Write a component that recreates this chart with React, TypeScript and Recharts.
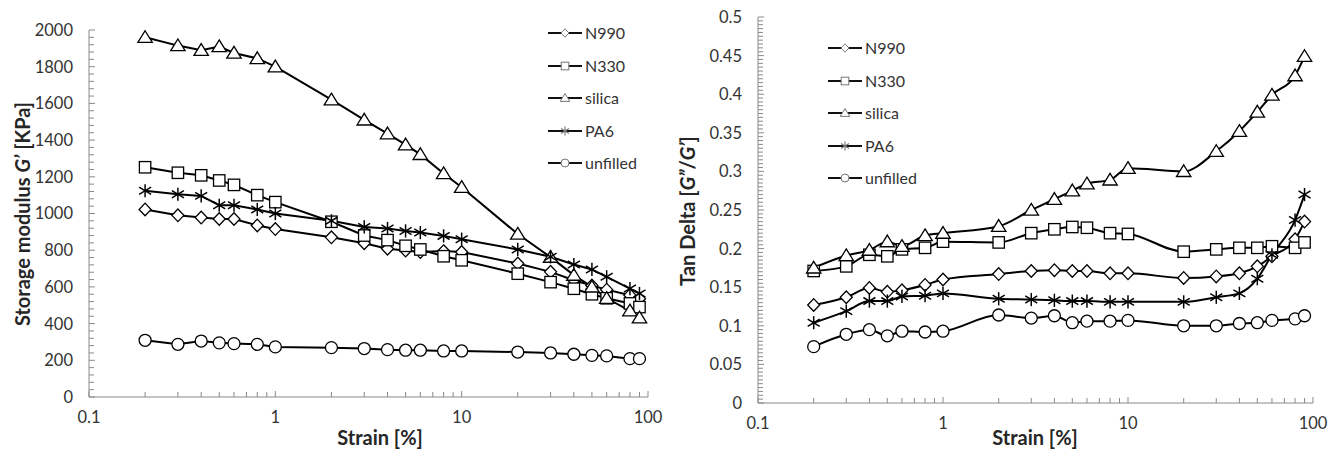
import { LineChart, Line, XAxis, YAxis, Legend, Label } from 'recharts';

/* -------------------------------------------------------------------------- */
/*  Data                                                                      */
/* -------------------------------------------------------------------------- */

const strain = [0.2, 0.3, 0.4, 0.5, 0.6, 0.8, 1, 2, 3, 4, 5, 6, 8, 10, 20, 30, 40, 50, 60, 80, 90];

// storage modulus G' [KPa]
const gN990 = [1022, 990, 978, 970, 970, 935, 915, 870, 838, 808, 798, 790, 795, 790, 727, 682, 636, 608, 585, 555, 536];
const gN330 = [1252, 1222, 1208, 1180, 1156, 1100, 1062, 955, 880, 855, 824, 804, 767, 745, 672, 626, 590, 560, 538, 510, 490];
const gSilica = [1960, 1915, 1890, 1910, 1875, 1845, 1800, 1620, 1510, 1435, 1375, 1322, 1218, 1143, 888, 762, 664, 600, 538, 470, 432];
const gPA6 = [1124, 1105, 1096, 1045, 1045, 1022, 1000, 960, 927, 918, 905, 896, 878, 860, 804, 764, 722, 695, 655, 591, 564];
const gUnfilled = [309, 287, 305, 295, 291, 287, 273, 269, 264, 258, 255, 255, 251, 251, 245, 240, 233, 227, 224, 209, 209];

// tan delta G''/G'
const tN990 = [0.127, 0.137, 0.149, 0.144, 0.146, 0.153, 0.16, 0.167, 0.171, 0.172, 0.171, 0.171, 0.168, 0.168, 0.162, 0.164, 0.168, 0.177, 0.19, 0.212, 0.235];
const tN330 = [0.171, 0.177, 0.192, 0.19, 0.199, 0.201, 0.209, 0.208, 0.22, 0.225, 0.228, 0.227, 0.22, 0.219, 0.196, 0.199, 0.201, 0.201, 0.203, 0.201, 0.208];
const tSilica = [0.175, 0.191, 0.198, 0.209, 0.203, 0.217, 0.22, 0.229, 0.25, 0.264, 0.275, 0.284, 0.289, 0.304, 0.3, 0.326, 0.352, 0.377, 0.399, 0.424, 0.449];
const tPA6 = [0.104, 0.119, 0.132, 0.132, 0.138, 0.139, 0.142, 0.135, 0.134, 0.133, 0.132, 0.132, 0.131, 0.131, 0.131, 0.137, 0.142, 0.161, 0.192, 0.237, 0.27];
const tUnfilled = [0.073, 0.089, 0.095, 0.087, 0.093, 0.092, 0.093, 0.114, 0.11, 0.113, 0.104, 0.106, 0.106, 0.107, 0.1, 0.1, 0.103, 0.104, 0.107, 0.109, 0.113];

const xMajor = [0.1, 1, 10, 100];
const xTicks = [0.1, 0.2, 0.3, 0.4, 0.5, 0.6, 0.7, 0.8, 0.9, 1, 2, 3, 4, 5, 6, 7, 8, 9, 10, 20, 30, 40, 50, 60, 70, 80, 90, 100];
const gMajor = [0, 200, 400, 600, 800, 1000, 1200, 1400, 1600, 1800, 2000];
const tMajor = [0, 0.05, 0.1, 0.15, 0.2, 0.25, 0.3, 0.35, 0.4, 0.45, 0.5];

type Shape = 'diamond' | 'square' | 'triangle' | 'star' | 'circle';

const series: { key: string; name: string; shape: Shape }[] = [
  { key: 'N990', name: 'N990', shape: 'diamond' },
  { key: 'N330', name: 'N330', shape: 'square' },
  { key: 'silica', name: 'silica', shape: 'triangle' },
  { key: 'PA6', name: 'PA6', shape: 'star' },
  { key: 'unfilled', name: 'unfilled', shape: 'circle' },
];

const gData = strain.map((s, i) => ({
  strain: s,
  N990: gN990[i],
  N330: gN330[i],
  silica: gSilica[i],
  PA6: gPA6[i],
  unfilled: gUnfilled[i],
}));

const tData = strain.map((s, i) => ({
  strain: s,
  N990: tN990[i],
  N330: tN330[i],
  silica: tSilica[i],
  PA6: tPA6[i],
  unfilled: tUnfilled[i],
}));

// minor tick positions between the major ones
const subdivide = (majors: number[], n: number) => {
  const out: number[] = [];
  for (let i = 0; i < majors.length - 1; i++) {
    const step = (majors[i + 1] - majors[i]) / n;
    for (let k = 0; k < n; k++) out.push(Number((majors[i] + k * step).toFixed(4)));
  }
  out.push(majors[majors.length - 1]);
  return out;
};

const FONT = 'Lato, "Open Sans", sans-serif';
const TEXT = '#333';
const AXIS = '#8a8a8a';
const Y_AXIS_W = 60;
const X_AXIS_H = 30;

/* -------------------------------------------------------------------------- */
/*  Markers                                                                   */
/* -------------------------------------------------------------------------- */

function Marker({ shape, cx, cy, size, stroke, sw }: { shape: Shape; cx: number; cy: number; size: number; stroke: string; sw: number }) {
  const r = size / 2;
  const common = { fill: '#fff', stroke, strokeWidth: sw };
  switch (shape) {
    case 'diamond':
      return <polygon points={`${cx},${cy - r * 1.05} ${cx + r},${cy} ${cx},${cy + r * 1.05} ${cx - r},${cy}`} {...common} />;
    case 'square':
      return <rect x={cx - r * 0.95} y={cy - r * 0.95} width={r * 1.9} height={r * 1.9} {...common} />;
    case 'triangle':
      return <polygon points={`${cx},${cy - r * 1.1} ${cx + r * 1.2},${cy + r * 0.85} ${cx - r * 1.2},${cy + r * 0.85}`} {...common} />;
    case 'star':
      return (
        <g stroke={stroke} strokeWidth={sw * 1.15}>
          <line x1={cx} y1={cy - r * 1.1} x2={cx} y2={cy + r * 1.1} />
          <line x1={cx - r} y1={cy - r * 0.6} x2={cx + r} y2={cy + r * 0.6} />
          <line x1={cx - r} y1={cy + r * 0.6} x2={cx + r} y2={cy - r * 0.6} />
        </g>
      );
    default:
      return <circle cx={cx} cy={cy} r={r} {...common} />;
  }
}

/* -------------------------------------------------------------------------- */
/*  Legend                                                                    */
/* -------------------------------------------------------------------------- */

function SeriesLegend() {
  return (
    <div style={{ fontFamily: FONT, fontSize: 16, color: TEXT, lineHeight: 1 }}>
      {series.map((s) => (
        <div key={s.key} style={{ display: 'flex', alignItems: 'center', height: 32.5 }}>
          <svg width={34} height={16} style={{ marginRight: 3 }}>
            <line x1={0} y1={8} x2={34} y2={8} stroke="#111" strokeWidth={2} />
            <Marker shape={s.shape} cx={17} cy={8} size={8} stroke="#777" sw={1} />
          </svg>
          <span>{s.name}</span>
        </div>
      ))}
    </div>
  );
}

/* -------------------------------------------------------------------------- */
/*  Ticks                                                                     */
/* -------------------------------------------------------------------------- */

const makeYTick = (majors: number[], plotLeft: number) => (props: any) => {
  const { y, payload } = props;
  const v = payload.value;
  const isMajor = majors.some((m) => Math.abs(m - v) < 1e-9);
  return (
    <g>
      <line x1={plotLeft} x2={plotLeft + (isMajor ? 6 : 5)} y1={y} y2={y} stroke={AXIS} strokeWidth={1} />
      {isMajor && (
        <text x={plotLeft - 16} y={y} dy="0.36em" textAnchor="end" fontFamily={FONT} fontSize={16.5} fill={TEXT}>
          {String(v)}
        </text>
      )}
    </g>
  );
};

const makeXTick = (plotBottom: number) => (props: any) => {
  const { x, payload } = props;
  const v = payload.value;
  const isMajor = xMajor.includes(v);
  return (
    <g>
      <line x1={x} x2={x} y1={plotBottom} y2={plotBottom - (isMajor ? 6 : 5)} stroke={AXIS} strokeWidth={1} />
      {isMajor && (
        <text x={x} y={plotBottom + 26} textAnchor="middle" fontFamily={FONT} fontSize={16.5} fill={TEXT}>
          {String(v)}
        </text>
      )}
    </g>
  );
};

/* -------------------------------------------------------------------------- */
/*  Panels                                                                    */
/* -------------------------------------------------------------------------- */

const titleStyle = { fontFamily: FONT, fontSize: 20, fontWeight: 700, fill: '#262626' };

function Panel({
  data,
  width,
  plot,
  yDomain,
  yMajor,
  yMinorDiv,
  curve,
  legendPos,
  yTitle,
  yTitlePos,
  xTitleX,
}: {
  data: any[];
  width: number;
  plot: { top: number; right: number; bottom: number; left: number };
  yDomain: [number, number];
  yMajor: number[];
  yMinorDiv: number;
  curve: 'linear' | 'monotone';
  legendPos: { left: number; top: number };
  yTitle: React.ReactNode;
  yTitlePos: { x: number; y: number };
  xTitleX: number;
}) {
  const height = 451;
  const plotLeft = plot.left;
  const plotBottom = height - plot.bottom;
  const margin = {
    top: plot.top,
    right: plot.right,
    left: plot.left - Y_AXIS_W,
    bottom: plot.bottom - X_AXIS_H,
  };
  return (
    <LineChart width={width} height={height} data={data} margin={margin}>
      <XAxis
        dataKey="strain"
        type="number"
        scale="log"
        domain={[0.1, 100]}
        ticks={xTicks}
        interval={0}
        height={X_AXIS_H}
        tickLine={false}
        axisLine={{ stroke: AXIS }}
        tick={makeXTick(plotBottom)}
        allowDataOverflow
      >
        <Label
          content={() => (
            <text x={xTitleX} y={445} textAnchor="middle" {...titleStyle}>
              Strain [%]
            </text>
          )}
        />
      </XAxis>
      <YAxis
        type="number"
        domain={yDomain}
        ticks={subdivide(yMajor, yMinorDiv)}
        interval={0}
        width={Y_AXIS_W}
        tickLine={false}
        axisLine={{ stroke: AXIS }}
        tick={makeYTick(yMajor, plotLeft)}
      >
        <Label
          content={() => (
            <text
              x={yTitlePos.x}
              y={yTitlePos.y}
              textAnchor="middle"
              dominantBaseline="central"
              transform={`rotate(-90 ${yTitlePos.x} ${yTitlePos.y})`}
              {...titleStyle}
            >
              {yTitle}
            </text>
          )}
        />
      </YAxis>
      <Legend
        content={<SeriesLegend />}
        layout="vertical"
        align="center"
        verticalAlign="middle"
        wrapperStyle={{ position: 'absolute', left: legendPos.left, top: legendPos.top, width: 130, bottom: 'auto' }}
      />
      {series.map((s) => (
        <Line
          key={s.key}
          dataKey={s.key}
          name={s.name}
          type={curve}
          stroke="#000"
          strokeWidth={2}
          isAnimationActive={false}
          legendType="none"
          dot={(p: any) => (
            <Marker key={`${s.key}-${p.index}`} shape={s.shape} cx={p.cx} cy={p.cy} size={12} stroke="#000" sw={1.3} />
          )}
        />
      ))}
    </LineChart>
  );
}

export default function App() {
  return (
    <div style={{ position: 'absolute', left: 0, top: 0, width: 1329, height: 451, background: '#fff' }}>
      <div style={{ position: 'absolute', left: 0, top: 0 }}>
        <Panel
          data={gData}
          width={665}
          plot={{ top: 30, right: 17, bottom: 54, left: 89 }}
          yDomain={[0, 2000]}
          yMajor={gMajor}
          yMinorDiv={5}
          curve="linear"
          legendPos={{ left: 548, top: 17 }}
          yTitle={
            <>
              Storage modulus <tspan fontStyle="italic">G’</tspan>  [KPa]
            </>
          }
          yTitlePos={{ x: 22, y: 214 }}
          xTitleX={380}
        />
      </div>
      <div style={{ position: 'absolute', left: 665, top: 0 }}>
        <Panel
          data={tData}
          width={664}
          plot={{ top: 17, right: 16, bottom: 48, left: 93 }}
          yDomain={[0, 0.5]}
          yMajor={tMajor}
          yMinorDiv={10}
          curve="monotone"
          legendPos={{ left: 163, top: 32 }}
          yTitle={
            <>
              Tan Delta [<tspan fontStyle="italic">G”</tspan>/<tspan fontStyle="italic">G’</tspan>]
            </>
          }
          yTitlePos={{ x: 22, y: 211 }}
          xTitleX={370}
        />
      </div>
    </div>
  );
}
